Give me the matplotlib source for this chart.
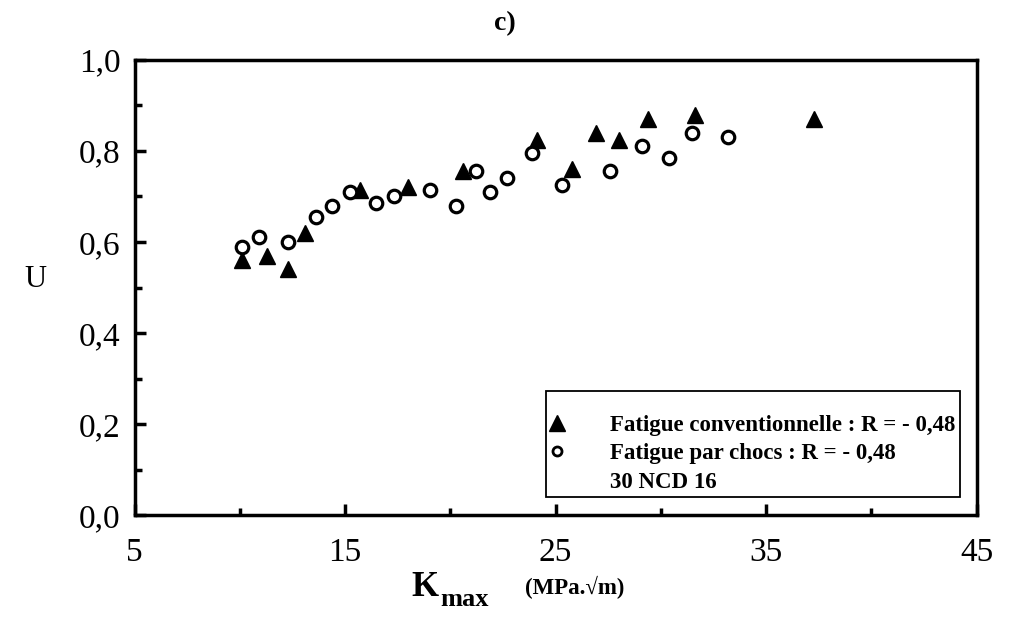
import matplotlib
matplotlib.use('Agg')
import matplotlib.pyplot as plt
from matplotlib.lines import Line2D
from matplotlib.ticker import FuncFormatter

plt.rcParams['font.family'] = ['Liberation Serif', 'DejaVu Serif']

# Fatigue conventionnelle (triangles)
k_conv = [10.1, 11.3, 12.3, 13.1, 15.7, 18.0, 20.6, 24.1, 25.8, 26.9, 28.0, 29.4, 31.6, 37.3]
u_conv = [0.56, 0.57, 0.54, 0.62, 0.715, 0.72, 0.755, 0.825, 0.76, 0.84, 0.825, 0.87, 0.88, 0.87]

# Fatigue par chocs (circles)
k_choc = [10.1, 10.9, 12.3, 13.6, 14.4, 15.25, 16.45, 17.3, 19.05, 20.25, 21.2, 21.9,
          22.7, 23.9, 25.3, 27.6, 29.1, 30.4, 31.5, 33.2]
u_choc = [0.59, 0.61, 0.60, 0.655, 0.68, 0.71, 0.685, 0.70, 0.715, 0.68, 0.755, 0.71,
          0.74, 0.795, 0.725, 0.755, 0.81, 0.785, 0.84, 0.83]

x_major = [5, 15, 25, 35, 45]
x_minor = [10, 20, 30, 40]
y_major = [0.0, 0.2, 0.4, 0.6, 0.8, 1.0]
y_minor = [0.1, 0.3, 0.5, 0.7, 0.9]

lab_conv = 'Fatigue conventionnelle : R = - 0,48'
lab_choc = 'Fatigue par chocs : R = - 0,48'
lab_mat = '30 NCD 16'

fig = plt.figure(figsize=(10.12, 6.3), dpi=100)
ax = fig.add_axes([0.133, 0.182, 0.832, 0.723])

ax.plot(k_conv, u_conv, linestyle='none', marker='^', ms=12, color='black')
ax.plot(k_choc, u_choc, linestyle='none', marker='o', ms=9, mfc='white', mec='black', mew=2.3)

ax.set_xlim(5, 45)
ax.set_ylim(0, 1.0)
ax.set_xticks(x_major)
ax.set_xticks(x_minor, minor=True)
ax.set_yticks(y_major)
ax.set_yticks(y_minor, minor=True)
ax.yaxis.set_major_formatter(FuncFormatter(lambda v, p: '{:.1f}'.format(v).replace('.', ',')))

ax.tick_params(which='both', direction='in', top=False, right=False, labelsize=24, width=2.5)
ax.tick_params(which='major', length=8)
ax.tick_params(axis='x', which='major', pad=16)
ax.tick_params(axis='y', which='major', pad=10)
ax.tick_params(which='minor', length=5)
for s in ax.spines.values():
    s.set_linewidth(2.5)

handles = [
    Line2D([], [], linestyle='none', marker='^', ms=11, color='black'),
    Line2D([], [], linestyle='none', marker='o', ms=6.5, mfc='white', mec='black', mew=2),
    Line2D([], [], linestyle='none'),
]
leg = ax.legend(handles, [lab_conv, lab_choc, lab_mat], loc='lower right',
                bbox_to_anchor=(0.98, 0.04), borderaxespad=0, fancybox=False,
                edgecolor='black', framealpha=1, handlelength=0.6, handletextpad=2.0,
                labelspacing=0.32, borderpad=0.2, title=' ', title_fontsize=9,
                prop={'family': ['Liberation Serif', 'DejaVu Serif'], 'weight': 'bold', 'size': 16.5})
leg.get_frame().set_linewidth(1.3)

fig.text(0.499, 0.962, 'c)', ha='center', va='center', fontsize=20, fontweight='bold')
fig.text(0.035, 0.556, 'U', ha='center', va='center', fontsize=22)
fig.text(0.42, 0.068, 'K', ha='center', va='center', fontsize=25, fontweight='bold')
fig.text(0.459, 0.048, 'max', ha='center', va='center', fontsize=19, fontweight='bold')
fig.text(0.568, 0.068, '(MPa.\u221am)', ha='center', va='center', fontsize=16.5, fontweight='bold')

fig.savefig('out.png', dpi=100)
